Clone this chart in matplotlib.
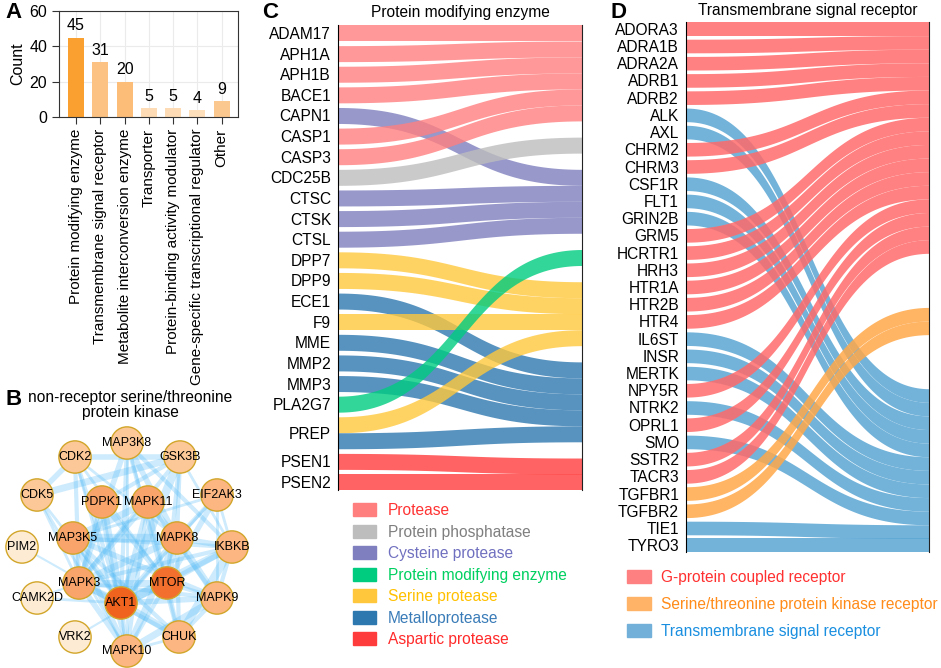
import numpy as np
import matplotlib
matplotlib.use("Agg")
import matplotlib.pyplot as plt
from matplotlib.colors import LinearSegmentedColormap, Normalize
from matplotlib.patches import Patch

plt.rcParams['font.family'] = ['Liberation Sans', 'DejaVu Sans']

# ---- panel A: protein classes ----
classes = ["Protein modifying enzyme", "Transmembrane signal receptor",
           "Metabolite interconversion enzyme", "Transporter",
           "Protein-binding activity modulator",
           "Gene-specific transcriptional regulator", "Other"]
class_counts = [45, 31, 20, 5, 5, 4, 9]

# ---- panel B: kinase network ----
kinases = ["MAP3K8", "CDK2", "GSK3B", "CDK5", "PDPK1", "MAPK11", "EIF2AK3",
           "PIM2", "MAP3K5", "MAPK8", "IKBKB", "MAPK3", "MTOR", "CAMK2D",
           "AKT1", "MAPK9", "VRK2", "CHUK", "MAPK10"]
kinase_degree = [9, 9, 9, 9, 13, 13, 11, 2, 13, 13, 11, 13, 17, 2, 18, 11, 2, 11, 11]
kinase_links = [
    ("AKT1", "MTOR", 6), ("AKT1", "MAPK3", 5), ("AKT1", "MAPK8", 4), ("AKT1", "PDPK1", 6),
    ("AKT1", "GSK3B", 6), ("AKT1", "CHUK", 5), ("AKT1", "IKBKB", 5), ("AKT1", "MAPK10", 3),
    ("AKT1", "MAPK9", 4), ("AKT1", "MAP3K5", 4), ("AKT1", "CDK2", 3), ("AKT1", "MAPK11", 3),
    ("AKT1", "EIF2AK3", 2), ("AKT1", "CAMK2D", 2), ("AKT1", "MAP3K8", 3), ("AKT1", "CDK5", 2),
    ("AKT1", "PIM2", 1.5),
    ("MTOR", "MAPK3", 5), ("MTOR", "MAPK8", 4), ("MTOR", "PDPK1", 4), ("MTOR", "GSK3B", 3),
    ("MTOR", "CHUK", 3), ("MTOR", "IKBKB", 4), ("MTOR", "MAPK9", 3), ("MTOR", "EIF2AK3", 4),
    ("MTOR", "CDK2", 2), ("MTOR", "MAPK10", 3), ("MTOR", "MAP3K8", 2), ("MTOR", "MAPK11", 2),
    ("MTOR", "VRK2", 1.5),
    ("MAPK8", "MAPK3", 5), ("MAPK8", "MAPK9", 5), ("MAPK8", "MAPK10", 5), ("MAPK8", "MAP3K5", 6),
    ("MAPK8", "MAPK11", 4), ("MAPK8", "GSK3B", 3), ("MAPK8", "CHUK", 3), ("MAPK8", "IKBKB", 4),
    ("MAPK8", "EIF2AK3", 3), ("MAPK8", "MAP3K8", 4), ("MAPK8", "CDK2", 2),
    ("MAPK3", "MAPK9", 3), ("MAPK3", "MAPK10", 4), ("MAPK3", "MAP3K5", 4), ("MAPK3", "MAPK11", 4),
    ("MAPK3", "CHUK", 3), ("MAPK3", "IKBKB", 3), ("MAPK3", "MAP3K8", 4), ("MAPK3", "GSK3B", 3),
    ("MAPK3", "CDK2", 3), ("MAPK3", "CDK5", 2), ("MAPK3", "PDPK1", 3),
    ("MAP3K5", "MAPK9", 4), ("MAP3K5", "MAPK10", 4), ("MAP3K5", "MAPK11", 5), ("MAP3K5", "CHUK", 3),
    ("MAP3K5", "IKBKB", 3), ("MAP3K5", "EIF2AK3", 2),
    ("MAPK9", "MAPK10", 5), ("MAPK9", "MAPK11", 3), ("MAPK9", "IKBKB", 3), ("MAPK9", "CHUK", 3),
    ("MAPK9", "EIF2AK3", 2), ("MAPK10", "MAPK11", 3), ("MAPK10", "CHUK", 2), ("MAPK10", "MAP3K8", 2),
    ("IKBKB", "CHUK", 6), ("IKBKB", "MAP3K8", 3), ("IKBKB", "EIF2AK3", 2), ("IKBKB", "GSK3B", 2),
    ("CDK2", "CDK5", 4), ("CDK2", "GSK3B", 4), ("CDK2", "MAPK10", 2),
    ("CDK5", "GSK3B", 5), ("CDK5", "MAPK10", 2), ("PDPK1", "GSK3B", 3), ("PDPK1", "MAPK10", 2),
    ("MAP3K8", "CHUK", 3), ("CAMK2D", "MAPK3", 1.5),
]
# network layout in pixel units of the panel
kinase_xy = {
    "MAP3K8": (127, 443), "CDK2": (75, 457), "GSK3B": (180, 457), "CDK5": (37, 495),
    "PDPK1": (102, 502), "MAPK11": (148, 502), "EIF2AK3": (217, 495), "PIM2": (22, 547),
    "MAP3K5": (73, 538), "MAPK8": (177, 538), "IKBKB": (232, 547), "MAPK3": (79, 583),
    "MTOR": (167, 583), "CAMK2D": (37, 598), "AKT1": (121, 603), "MAPK9": (217, 598),
    "VRK2": (75, 637), "CHUK": (179, 637), "MAPK10": (127, 651),
}

# ---- panel C: protein modifying enzymes ----
pme_gene = ["ADAM17", "APH1A", "APH1B", "BACE1", "CAPN1", "CASP1", "CASP3", "CDC25B",
            "CTSC", "CTSK", "CTSL", "DPP7", "DPP9", "ECE1", "F9", "MME", "MMP2", "MMP3",
            "PLA2G7", "PREP", "PREP", "PSEN1", "PSEN2"]
pme_class = ["Protease", "Protease", "Protease", "Protease", "Cysteine protease",
             "Protease", "Protease", "Protein phosphatase", "Cysteine protease",
             "Cysteine protease", "Cysteine protease", "Serine protease", "Serine protease",
             "Metalloprotease", "Serine protease", "Metalloprotease", "Metalloprotease",
             "Metalloprotease", "Protein modifying enzyme", "Serine protease",
             "Metalloprotease", "Aspartic protease", "Aspartic protease"]
pme_order = ["Protease", "Protein phosphatase", "Cysteine protease",
             "Protein modifying enzyme", "Serine protease", "Metalloprotease",
             "Aspartic protease"]

# ---- panel D: transmembrane signal receptors ----
tsr_gene = ["ADORA3", "ADRA1B", "ADRA2A", "ADRB1", "ADRB2", "ALK", "AXL", "CHRM2", "CHRM3",
            "CSF1R", "FLT1", "GRIN2B", "GRM5", "HCRTR1", "HRH3", "HTR1A", "HTR2B", "HTR4",
            "IL6ST", "INSR", "MERTK", "NPY5R", "NTRK2", "OPRL1", "SMO", "SSTR2", "TACR3",
            "TGFBR1", "TGFBR2", "TIE1", "TYRO3"]
G, K, T = ("G-protein coupled receptor", "Serine/threonine protein kinase receptor",
           "Transmembrane signal receptor")
tsr_class = [G, G, G, G, G, T, T, G, G, T, T, T, G, G, G, G, G, G,
             T, T, T, G, T, G, T, G, G, K, K, T, T]
tsr_order = [G, K, T]

# ---- styles ----
bar_colors = ["#F9A030", "#FBC283", "#FBBD78", "#FDDCB5", "#FDDCB5", "#FDDFBC", "#FBC890"]
pme_colors = {"Protease": "#FF7F7F", "Protein phosphatase": "#BDBDBD",
              "Cysteine protease": "#7F7FBF", "Protein modifying enzyme": "#00CC80",
              "Serine protease": "#FFC83C", "Metalloprotease": "#2E78B0",
              "Aspartic protease": "#FF3C3C"}
pme_text = {"Protease": "#FF3333", "Protein phosphatase": "#7F7F7F",
            "Cysteine protease": "#7070C0", "Protein modifying enzyme": "#00D060",
            "Serine protease": "#FFC000", "Metalloprotease": "#3A7CB8",
            "Aspartic protease": "#FF2A2A"}
tsr_colors = {G: "#FF6B6B", K: "#FFA848", T: "#5AA6D4"}
tsr_patch = {G: "#FF8080", K: "#FFB366", T: "#72B0DA"}
tsr_text = {G: "#FF3030", K: "#FF8C1A", T: "#1A8FE0"}

W, H = 941, 668
fig = plt.figure(figsize=(W / 100, H / 100), dpi=100)


def px_axes(x0, y0, x1, y1):
    return fig.add_axes([x0 / W, 1 - y1 / H, (x1 - x0) / W, (y1 - y0) / H])


# ================= A =================
axA = px_axes(59, 11, 238, 117)
x = np.arange(len(classes))
bars = axA.bar(x, class_counts, width=0.66, color=bar_colors, zorder=2)
axA.bar_label(bars, padding=3, fontsize=11.5)
axA.set_xlim(-0.7, 6.67)
axA.set_ylim(0, 60)
axA.set_yticks([0, 20, 40, 60])
axA.set_xticks(x)
axA.set_xticklabels(classes, rotation=90, fontsize=11)
axA.tick_params(axis="y", labelsize=11.5)
axA.tick_params(length=5, color="#333333")
axA.set_ylabel("Count", fontsize=11.5, labelpad=3)
axA.grid(True, color="#EBEBEB", lw=0.8, zorder=0)
for sp in axA.spines.values():
    sp.set_color("#333333")

# ================= B =================
axB = px_axes(0, 425, 260, 668)
axB.set_xlim(0, 260)
axB.set_ylim(668, 425)
axB.axis("off")
for a, b, w in kinase_links:
    (x0, y0), (x1, y1) = kinase_xy[a], kinase_xy[b]
    axB.plot([x0, x1], [y0, y1], color="#4DB8F5", alpha=0.28, lw=w,
             solid_capstyle="butt", zorder=1)
node_cmap = LinearSegmentedColormap.from_list(
    "deg", [(0, "#FEEBD3"), (0.44, "#FCC897"), (0.69, "#F9A46A"), (1, "#F0631F")])
norm = Normalize(2, 18)
kx = [kinase_xy[k][0] for k in kinases]
ky = [kinase_xy[k][1] for k in kinases]
axB.scatter(kx, ky, s=540, c=kinase_degree, cmap=node_cmap, norm=norm,
            edgecolors="#D2A62A", linewidths=1, zorder=3)
for k in kinases:
    axB.text(*kinase_xy[k], k, ha="center", va="center", fontsize=9, zorder=4)
fig.text(130 / W, 1 - 405 / H, "non-receptor serine/threonine\nprotein kinase",
         ha="center", va="center", fontsize=11.2, linespacing=1.0)


# ================= Sankey helper =================
def sankey(ax, genes, groups, order, colors, pad, alpha):
    nodes = list(dict.fromkeys(genes))
    n = len(genes)
    total = n + pad * (len(nodes) - 1)
    rgap = (total - n) / (len(order) - 1)
    flows = sorted(range(n), key=lambda i: (nodes.index(genes[i]), order.index(groups[i])))
    left, right, centers = {}, {}, []
    y = 0.0
    for node in nodes:
        start = y
        for i in flows:
            if genes[i] == node:
                left[i] = y
                y += 1
        centers.append((start + y) / 2)
        y += pad
    y = 0.0
    for g in order:
        for i in flows:
            if groups[i] == g:
                right[i] = y
                y += 1
        y += rgap
    t = np.linspace(0, 1, 300)
    bx = 1.5 * t * (1 - t) + t ** 3
    by = 3 * t ** 2 - 2 * t ** 3
    xs = np.linspace(0, 1, 300)
    for i in flows:
        top = np.interp(xs, bx, left[i] + (right[i] - left[i]) * by)
        ax.fill_between(xs, top, top + 1, color=colors[groups[i]], alpha=alpha,
                        lw=0, zorder=2)
    ax.set_xlim(0, 1)
    ax.set_ylim(total, 0)
    ax.set_yticks(centers)
    ax.set_yticklabels(nodes, fontsize=11.2)
    ax.tick_params(axis="y", length=0, pad=5)
    ax.set_xticks([])
    ax.spines["top"].set_visible(False)
    ax.spines["bottom"].set_visible(False)
    ax.spines["left"].set_color("black")
    ax.spines["right"].set_color("#222222")


# ================= C =================
axC = px_axes(338, 25, 582, 490)
sankey(axC, pme_gene, pme_class, pme_order, pme_colors, 0.29, 0.8)
axC.set_title("Protein modifying enzyme", fontsize=11.2, pad=6)
handles = [Patch(color=pme_colors[c]) for c in pme_order]
leg = fig.legend(handles, pme_order, loc="upper left",
                 bbox_to_anchor=(353 / W, 1 - 503 / H), frameon=False, fontsize=11.2,
                 handlelength=1.5, handleheight=0.88, handletextpad=0.75,
                 labelspacing=0.42, borderpad=0, borderaxespad=0)
for txt, c in zip(leg.get_texts(), pme_order):
    txt.set_color(pme_text[c])

# ================= D =================
axD = px_axes(686, 22, 929, 552)
sankey(axD, tsr_gene, tsr_class, tsr_order, tsr_colors, 0.265, 0.85)
axD.set_title("Transmembrane signal receptor", fontsize=11.2, pad=5)
handles = [Patch(color=tsr_patch[c]) for c in tsr_order]
leg = fig.legend(handles, tsr_order, loc="upper left",
                 bbox_to_anchor=(627 / W, 1 - 570 / H), frameon=False, fontsize=11.2,
                 handlelength=1.55, handleheight=0.92, handletextpad=0.65,
                 labelspacing=0.78, borderpad=0, borderaxespad=0)
for txt, c in zip(leg.get_texts(), tsr_order):
    txt.set_color(tsr_text[c])

# panel letters
for lab, px, py in [("A", 14, 12), ("B", 14, 400), ("C", 270, 12), ("D", 618, 12)]:
    fig.text(px / W, 1 - py / H, lab, fontsize=16, fontweight="bold",
             ha="center", va="center")

fig.savefig("out.png", dpi=100)
